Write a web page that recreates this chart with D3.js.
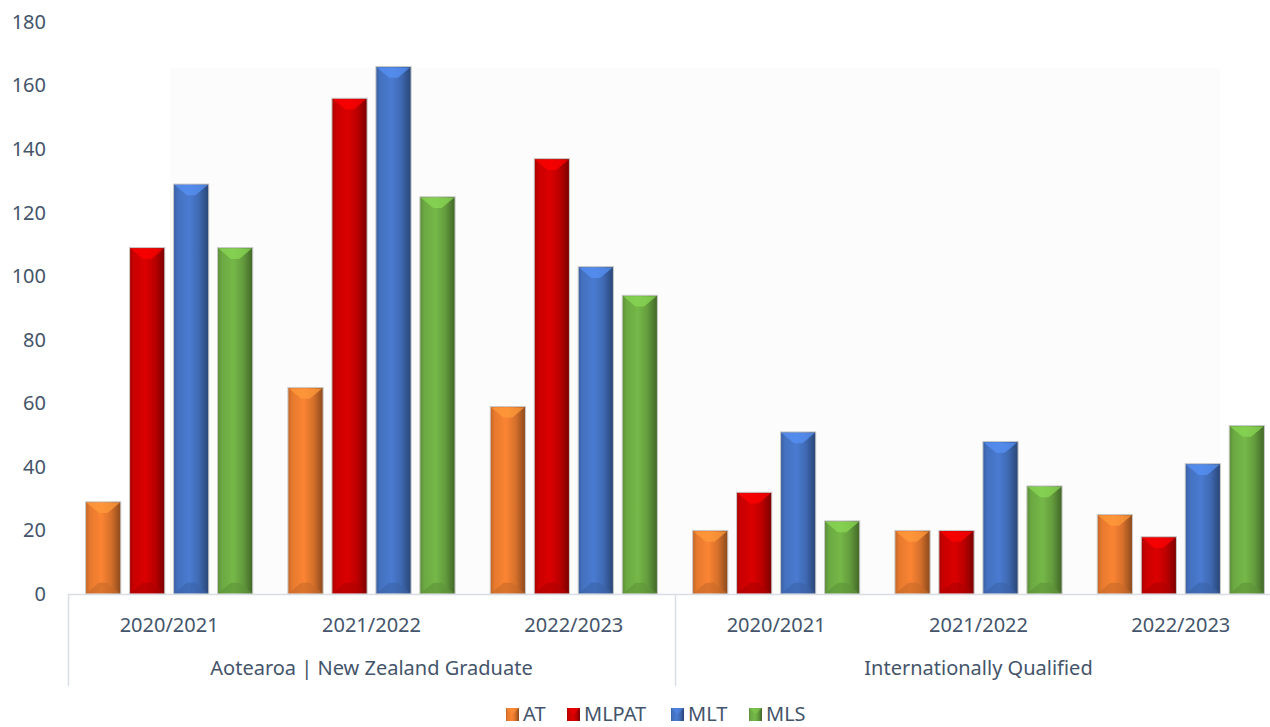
<!DOCTYPE html>
<html>
<head>
<meta charset="utf-8">
<script src="https://cdn.jsdelivr.net/npm/d3@7"></script>
<style>
  body { margin: 0; background: #fff; }
  text { font-family: "Noto Sans", sans-serif; fill: #44546A; }
</style>
</head>
<body>
<svg id="chart"></svg>
<script>
// Series and categories
const seriesNames = ["AT", "MLPAT", "MLT", "MLS"];
const seriesColors = ["#EE7D30", "#D00000", "#4675C6", "#6FAE44"];
const groups = ["Aotearoa | New Zealand Graduate", "Internationally Qualified"];
const years = ["2020/2021", "2021/2022", "2022/2023"];

// values per series, order: NZ 20/21, 21/22, 22/23, Intl 20/21, 21/22, 22/23
const atValues = [29, 65, 59, 20, 20, 25];
const mlpatValues = [109, 156, 137, 32, 20, 18];
const mltValues = [129, 166, 103, 51, 48, 41];
const mlsValues = [109, 125, 94, 23, 34, 53];
const yTicks = [0, 20, 40, 60, 80, 100, 120, 140, 160, 180];

const width = 1270;
const height = 727;
const plotLeft = 68;
const plotRight = 1282;
const baseY = 594;
const topY = 22;

const svg = d3.select('#chart')
    .attr('width', width)
    .attr('height', height);

// categories = group x year
const categories = [];
groups.forEach((g, gi) => years.forEach(yr => categories.push({ key: gi + '_' + yr, year: yr })));
const valueRows = [atValues, mlpatValues, mltValues, mlsValues];

const x = d3.scaleBand()
    .domain(categories.map(c => c.key))
    .range([plotLeft, plotRight]);

const xInner = d3.scaleBand()
    .domain(seriesNames)
    .range([0, x.bandwidth()])
    .paddingInner(0.2)
    .paddingOuter(0.4);

const y = d3.scaleLinear()
    .domain([0, 180])
    .range([baseY, topY]);

const color = d3.scaleOrdinal().domain(seriesNames).range(seriesColors);

// gradients for the bevelled look
const defs = svg.append('defs');
seriesNames.forEach(s => {
    const c = d3.color(color(s));
    const grad = defs.append('linearGradient')
        .attr('id', 'grad-' + s)
        .attr('x1', 0).attr('x2', 1).attr('y1', 0).attr('y2', 0);
    grad.append('stop').attr('offset', '0%').attr('stop-color', c.darker(0.6));
    grad.append('stop').attr('offset', '12%').attr('stop-color', c.darker(0.1));
    grad.append('stop').attr('offset', '45%').attr('stop-color', c.brighter(0.15));
    grad.append('stop').attr('offset', '72%').attr('stop-color', c.darker(0.3));
    grad.append('stop').attr('offset', '100%').attr('stop-color', c.darker(1.5));
});

// faint plot wall
svg.append('rect')
    .attr('x', 170).attr('y', 68)
    .attr('width', 1050).attr('height', baseY - 68)
    .attr('fill', '#fcfcfc');

// y axis labels
const yAxis = svg.append('g')
    .attr('transform', `translate(${plotLeft - 22},0)`)
    .call(d3.axisLeft(y).tickValues(yTicks).tickSize(0).tickPadding(0));
yAxis.select('.domain').remove();
yAxis.selectAll('text')
    .attr('font-size', 20)
    .style('font-family', '"Noto Sans", sans-serif')
    .attr('fill', '#44546A');

// bars
const bars = [];
categories.forEach((cat, ci) => {
    seriesNames.forEach((s, si) => {
        bars.push({ cat: cat.key, s, v: valueRows[si][ci] });
    });
});

const barG = svg.append('g');
bars.forEach(d => {
    const x0 = x(d.cat) + xInner(d.s);
    const w = xInner.bandwidth();
    const x1 = x0 + w;
    const y0 = y(d.v);
    const y1 = y(0);
    const cx = x0 + w / 2;
    const b = Math.min(w * 0.32, (y1 - y0) / 2);
    const c = d3.color(color(d.s));
    const g = barG.append('g');

    g.append('rect')
        .attr('x', x0).attr('y', y0)
        .attr('width', w).attr('height', y1 - y0)
        .attr('fill', `url(#grad-${d.s})`)
        .attr('stroke', '#c9c9c9')
        .attr('stroke-width', 1);

    // top bevel
    g.append('polygon')
        .attr('points', [[x0 + 1, y0 + 1], [x1 - 1, y0 + 1], [cx + w * 0.12, y0 + b], [cx - w * 0.12, y0 + b]].join(' '))
        .attr('fill', c.brighter(0.6))
        .attr('opacity', 0.75);
    // bottom bevel
    g.append('polygon')
        .attr('points', [[x0 + 1, y1 - 1], [x1 - 1, y1 - 1], [cx + w * 0.12, y1 - b], [cx - w * 0.12, y1 - b]].join(' '))
        .attr('fill', c.darker(0.5))
        .attr('opacity', 0.6);
});

// x axis line and dividers
svg.append('line')
    .attr('x1', plotLeft).attr('x2', plotRight)
    .attr('y1', baseY + 0.5).attr('y2', baseY + 0.5)
    .attr('stroke', '#d9dde3').attr('stroke-width', 1.5);

const groupWidth = x.step() * years.length;
[0, 1, 2].forEach(i => {
    svg.append('line')
        .attr('x1', plotLeft + i * groupWidth + 0.5).attr('x2', plotLeft + i * groupWidth + 0.5)
        .attr('y1', baseY).attr('y2', 686)
        .attr('stroke', '#d9dde3').attr('stroke-width', 1.5);
});

// category labels
svg.append('g').selectAll('text')
    .data(categories)
    .enter()
    .append('text')
    .attr('x', d => x(d.key) + x.bandwidth() / 2)
    .attr('y', 627)
    .attr('text-anchor', 'middle')
    .attr('dominant-baseline', 'middle')
    .attr('font-size', 20)
    .text(d => d.year);

// group labels
svg.append('g').selectAll('text')
    .data(groups)
    .enter()
    .append('text')
    .attr('x', (d, i) => plotLeft + i * groupWidth + groupWidth / 2)
    .attr('y', 670)
    .attr('text-anchor', 'middle')
    .attr('dominant-baseline', 'middle')
    .attr('font-size', 20)
    .text(d => d);

// legend
const legendX = [506, 567, 671, 749];
const legend = svg.append('g').attr('transform', 'translate(0,721)');
seriesNames.forEach((s, i) => {
    const c = d3.color(color(s));
    const item = legend.append('g').attr('transform', `translate(${legendX[i]},0)`);
    item.append('rect')
        .attr('x', 0).attr('y', -13)
        .attr('width', 13).attr('height', 13)
        .attr('fill', `url(#grad-${s})`);
    item.append('polygon')
        .attr('points', '0,-13 13,-13 6.5,-6.5')
        .attr('fill', c.brighter(0.4))
        .attr('opacity', 0.6);
    item.append('text')
        .attr('x', 17)
        .attr('y', 0)
        .attr('font-size', 20)
        .text(s);
});
</script>
</body>
</html>
